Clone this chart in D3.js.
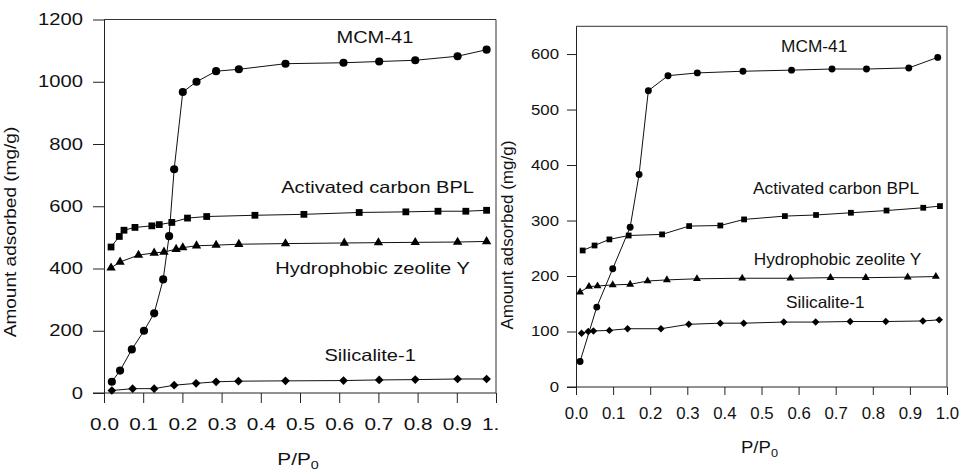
<!DOCTYPE html>
<html>
<head>
<meta charset="utf-8">
<script src="https://cdn.jsdelivr.net/npm/d3@7/dist/d3.min.js"></script>
<style>
  body { margin: 0; background: #fff; }
  svg { display: block; font-family: 'Liberation Sans', Arial, sans-serif; }
</style>
</head>
<body>
<div id="wrapper"></div>
<script>
// series names, in drawing order
const seriesNames = ['MCM-41', 'Activated carbon BPL', 'Hydrophobic zeolite Y', 'Silicalite-1']

// left panel (P/P0, mg/g)
const mcmLeftP = [0.020, 0.041, 0.071, 0.102, 0.128, 0.151, 0.166, 0.179, 0.201, 0.236, 0.286, 0.344, 0.463, 0.611, 0.702, 0.794, 0.902, 0.976]
const mcmLeftV = [36, 72, 140, 200, 256, 365, 504, 719, 967, 1000, 1034, 1040, 1058, 1061, 1065, 1069, 1082, 1103]
const bplLeftP = [0.018, 0.039, 0.051, 0.079, 0.122, 0.141, 0.173, 0.213, 0.262, 0.385, 0.510, 0.651, 0.770, 0.852, 0.923, 0.976]
const bplLeftV = [469, 503, 523, 532, 537, 541, 548, 562, 567, 571, 574, 580, 582, 584, 584, 587]
const zeoLeftP = [0.018, 0.041, 0.088, 0.128, 0.153, 0.184, 0.201, 0.236, 0.286, 0.344, 0.463, 0.613, 0.700, 0.794, 0.902, 0.976]
const zeoLeftV = [402, 421, 443, 450, 453, 462, 467, 473, 475, 478, 480, 482, 483, 484, 485, 487]
const silLeftP = [0.020, 0.073, 0.128, 0.179, 0.235, 0.286, 0.343, 0.463, 0.611, 0.702, 0.794, 0.902, 0.976]
const silLeftV = [8, 14, 14, 25, 31, 36, 38, 39, 40, 42, 43, 45, 45]

// right panel
const mcmRightP = [0.011, 0.056, 0.099, 0.146, 0.170, 0.195, 0.248, 0.327, 0.450, 0.581, 0.690, 0.783, 0.897, 0.975]
const mcmRightV = [46, 144, 213, 288, 383, 534, 561, 566, 569, 571, 573, 573, 575, 594]
const bplRightP = [0.018, 0.050, 0.090, 0.142, 0.232, 0.305, 0.389, 0.453, 0.563, 0.647, 0.741, 0.837, 0.936, 0.981]
const bplRightV = [246, 255, 266, 273, 275, 290, 291, 302, 308, 310, 314, 318, 323, 326]
const zeoRightP = [0.011, 0.035, 0.058, 0.099, 0.146, 0.193, 0.245, 0.326, 0.448, 0.578, 0.686, 0.781, 0.894, 0.970]
const zeoRightV = [171, 181, 182, 184, 185, 191, 193, 195, 196, 196, 197, 197, 198, 199]
const silRightP = [0.015, 0.033, 0.047, 0.090, 0.139, 0.229, 0.304, 0.389, 0.452, 0.560, 0.646, 0.739, 0.835, 0.935, 0.979]
const silRightV = [97, 100, 101, 102, 105, 105, 113, 115, 115, 117, 117, 118, 118, 119, 121]

// ticks
const xTicks = [0, 0.1, 0.2, 0.3, 0.4, 0.5, 0.6, 0.7, 0.8, 0.9, 1.0]
const leftYTicks = [0, 200, 400, 600, 800, 1000, 1200]
const rightYTicks = [0, 100, 200, 300, 400, 500, 600]

// where the series labels sit, in data units [P/P0, mg/g]
const leftLabelAt = [[0.691, 1123], [0.698, 642], [0.685, 382], [0.679, 103]]
const rightLabelAt = [[0.642, 603], [0.701, 347], [0.705, 220], [0.672, 143]]

const zip = (ps, vs) => ps.map((p, i) => ({ p, v: vs[i] }))

const panels = [
  {
    series: [zip(mcmLeftP, mcmLeftV), zip(bplLeftP, bplLeftV), zip(zeoLeftP, zeoLeftV), zip(silLeftP, silLeftV)],
    labelAt: leftLabelAt,
    xRange: [104, 496], yRange: [393, 19.5], yMax: 1200, yTicks: leftYTicks,
    yTick: { size: 11, pad: 10, font: 16.3, sx: 1.24 },
    xTick: { size: 10, pad: 16, font: 16, sx: 1.3 },
    labelFont: 16.3, labelSx: 1.23,
    yTitle: { x: 15.5, y: 232, sx: 1.19 },
    xTitle: { y: 465, sx: 1.3 },
    markerScale: 1,
  },
  {
    series: [zip(mcmRightP, mcmRightV), zip(bplRightP, bplRightV), zip(zeoRightP, zeoRightV), zip(silRightP, silRightV)],
    labelAt: rightLabelAt,
    xRange: [576, 947], yRange: [387, 26.3], yMax: 650, yTicks: rightYTicks,
    yTick: { size: 9, pad: 8, font: 14, sx: 1.2 },
    xTick: { size: 8, pad: 13, font: 16, sx: 1.05 },
    labelFont: 16.3, labelSx: 1.06,
    yTitle: { x: 513, y: 235, sx: 1.07 },
    xTitle: { y: 453, sx: 1.16 },
    markerScale: 0.85,
  },
]

const svg = d3.select('#wrapper')
  .append('svg')
  .attr('width', 960)
  .attr('height', 471)

const markerSymbols = [
  d3.symbol().type(d3.symbolCircle).size(52),
  d3.symbol().type(d3.symbolSquare).size(46),
  d3.symbol().type(d3.symbolTriangle).size(38),
  d3.symbol().type(d3.symbolSquare).size(38), // rotated 45deg below
]

function drawPanel(cfg, idx) {
  const g = svg.append('g')

  const xScale = d3.scaleLinear().domain([0, 1]).range(cfg.xRange)
  const yScale = d3.scaleLinear().domain([0, cfg.yMax]).range(cfg.yRange)

  // frame (top + right)
  g.append('path')
    .attr('d', `M${cfg.xRange[0]},${cfg.yRange[1]}H${cfg.xRange[1]}V${cfg.yRange[0]}`)
    .attr('fill', 'none')
    .attr('stroke', '#333')
    .attr('stroke-width', 1)

  const yAxis = g.append('g')
    .attr('transform', `translate(${cfg.xRange[0]},0)`)
    .call(d3.axisLeft(yScale)
      .tickValues(cfg.yTicks)
      .tickSize(cfg.yTick.size)
      .tickSizeOuter(0)
      .tickPadding(cfg.yTick.pad)
      .tickFormat(d3.format('d')))
    .attr('font-size', null)
    .attr('font-family', null)
  yAxis.selectAll('text')
    .attr('font-size', cfg.yTick.font)
    .attr('fill', '#111')
    .attr('x', -(cfg.yTick.size + cfg.yTick.pad) / cfg.yTick.sx)
    .attr('transform', `scale(${cfg.yTick.sx},1)`)

  const xAxis = g.append('g')
    .attr('transform', `translate(0,${cfg.yRange[0]})`)
    .call(d3.axisBottom(xScale)
      .tickValues(xTicks)
      .tickSize(cfg.xTick.size)
      .tickSizeOuter(0)
      .tickPadding(cfg.xTick.pad)
      .tickFormat(d3.format('.1f')))
    .attr('font-size', null)
    .attr('font-family', null)
  xAxis.selectAll('text')
    .attr('font-size', cfg.xTick.font)
    .attr('fill', '#111')
    .attr('transform', `scale(${cfg.xTick.sx},1)`)

  // stretch the x axis line out to the left to meet the y tick at 0
  xAxis.select('.domain')
    .attr('d', `M${cfg.xRange[0] - cfg.yTick.size},0H${cfg.xRange[1]}`)

  g.selectAll('.domain, .tick line').attr('stroke', '#222')

  const line = d3.line()
    .x(d => xScale(d.p))
    .y(d => yScale(d.v))

  cfg.series.forEach((data, i) => {
    g.append('path')
      .datum(data)
      .attr('d', line)
      .attr('fill', 'none')
      .attr('stroke', '#111')
      .attr('stroke-width', 1)

    g.selectAll(null)
      .data(data)
      .enter().append('path')
      .attr('d', markerSymbols[i])
      .attr('transform', d => `translate(${xScale(d.p)},${yScale(d.v)})`
        + (i === 3 ? ' rotate(45)' : '') + ` scale(${cfg.markerScale})`)
      .attr('fill', '#000')

    const [lp, lv] = cfg.labelAt[i]
    g.append('text')
      .attr('transform', `translate(${xScale(lp)},${yScale(lv)}) scale(${cfg.labelSx},1)`)
      .attr('text-anchor', 'middle')
      .attr('font-size', cfg.labelFont)
      .attr('fill', '#111')
      .text(seriesNames[i])
  })

  // axis titles
  g.append('text')
    .attr('transform', `translate(${cfg.yTitle.x},${cfg.yTitle.y}) rotate(-90) scale(${cfg.yTitle.sx},1)`)
    .attr('text-anchor', 'middle')
    .attr('font-size', 16)
    .attr('fill', '#111')
    .text('Amount adsorbed (mg/g)')

  const xt = g.append('text')
    .attr('transform', `translate(${(cfg.xRange[0] + cfg.xRange[1]) / 2 - 2},${cfg.xTitle.y}) scale(${cfg.xTitle.sx},1)`)
    .attr('text-anchor', 'middle')
    .attr('font-size', 16)
    .attr('fill', '#111')
  xt.append('tspan').text('P/P')
  xt.append('tspan').attr('dy', '0.35em').attr('font-size', 11).text('0')
}

drawPanel(panels[0], 0)

// the right figure sits over the left one and hides the end of its axis
svg.append('rect')
  .attr('x', 498).attr('y', 0)
  .attr('width', 462).attr('height', 471)
  .attr('fill', '#fff')

drawPanel(panels[1], 1)
</script>
</body>
</html>
